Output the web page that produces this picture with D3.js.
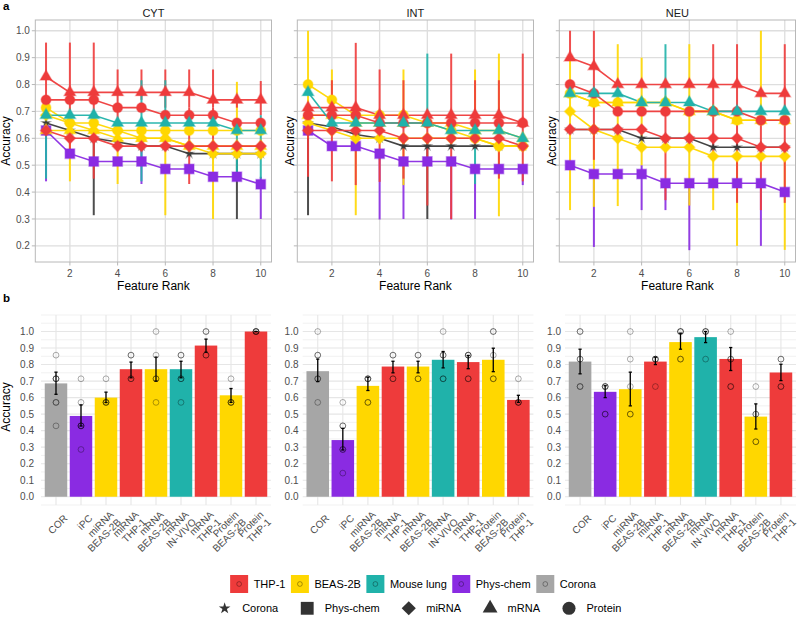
<!DOCTYPE html>
<html><head><meta charset="utf-8">
<script src="https://cdn.jsdelivr.net/npm/d3@7"></script>
<style>body{margin:0;background:#fff}</style>
</head><body>
<svg id="c" width="800" height="618"></svg>
<script>
// ---------------- DATA ----------------
const ranks = [1,2,3,4,5,6,7,8,9,10];
const topXTicks = [2,4,6,8,10];
const topYTicks = [0.2,0.3,0.4,0.5,0.6,0.7,0.8,0.9,1.0];
const botYTicks = [0,0.1,0.2,0.3,0.4,0.5,0.6,0.7,0.8,0.9,1.0];
const panelTitles = ["CYT","INT","NEU"];

// series of panel a (index order)
const seriesNames  = ["Corona","Phys-chem","miRNA BEAS-2B","mRNA BEAS-2B","Protein BEAS-2B","mRNA IN-VIVO","miRNA THP-1","mRNA THP-1","Protein THP-1"];
const seriesSource = ["Corona","Phys-chem","BEAS-2B","BEAS-2B","BEAS-2B","Mouse lung","THP-1","THP-1","THP-1"];
const seriesShape  = ["Corona","Phys-chem","miRNA","mRNA","Protein","mRNA","miRNA","mRNA","Protein"];

const cytMeans = [
 [.657,.629,.6,.586,.571,.571,.543,.543,.543,.543],
 [.629,.543,.514,.514,.514,.486,.486,.457,.457,.429],
 [.686,.657,.629,.629,.6,.6,.571,.543,.543,.543],
 [.629,.629,.629,.6,.6,.6,.571,.571,.571,.571],
 [.714,.657,.657,.629,.629,.629,.629,.629,.629,.629],
 [.686,.686,.686,.657,.657,.657,.657,.657,.629,.629],
 [.629,.6,.6,.571,.571,.571,.571,.571,.571,.571],
 [.829,.771,.771,.771,.771,.771,.771,.743,.743,.743],
 [.743,.743,.743,.714,.714,.686,.686,.686,.657,.657]];
const cytLo = [
 [.657,.629,.314,.586,.571,.571,.543,.543,.30,.543],
 [.44,.543,.514,.514,.43,.486,.486,.457,.457,.30],
 [.686,.657,.629,.629,.6,.6,.571,.30,.543,.543],
 [.629,.44,.629,.43,.6,.314,.571,.571,.571,.571],
 [.714,.657,.657,.629,.629,.629,.629,.629,.629,.629],
 [.45,.686,.686,.657,.44,.6,.657,.657,.45,.45],
 [.629,.6,.45,.557,.571,.557,.43,.543,.571,.571],
 [.70,.771,.771,.6,.743,.714,.714,.714,.714,.686],
 [.743,.53,.629,.714,.714,.686,.686,.686,.657,.657]];
const cytHi = [
 [.657,.629,.6,.586,.571,.571,.543,.543,.571,.543],
 [.629,.543,.514,.514,.56,.486,.486,.457,.457,.457],
 [.686,.657,.629,.629,.6,.6,.571,.571,.543,.543],
 [.629,.714,.629,.657,.6,.629,.571,.571,.571,.571],
 [.714,.657,.657,.629,.629,.629,.629,.629,.81,.629],
 [.70,.686,.686,.657,.816,.816,.657,.657,.629,.686],
 [.629,.6,.629,.6,.571,.6,.714,.714,.571,.571],
 [.956,.771,.771,.856,.856,.856,.856,.856,.743,.813],
 [.743,.956,.956,.714,.714,.686,.686,.686,.657,.657]];

const intMeans = [
 [.657,.643,.614,.6,.571,.571,.571,.571,.571,.571],
 [.629,.571,.571,.543,.514,.514,.514,.486,.486,.486],
 [.657,.629,.6,.6,.6,.6,.6,.6,.571,.571],
 [.686,.686,.657,.657,.657,.657,.657,.629,.629,.6],
 [.8,.743,.686,.686,.686,.657,.629,.6,.571,.571],
 [.771,.657,.657,.657,.657,.657,.629,.629,.629,.6],
 [.629,.629,.629,.629,.6,.6,.6,.6,.6,.571],
 [.714,.714,.714,.686,.686,.686,.686,.686,.686,.657],
 [.686,.686,.686,.657,.657,.657,.657,.657,.657,.657]];
const intLo = [
 [.314,.643,.614,.6,.571,.30,.571,.571,.571,.571],
 [.629,.571,.571,.298,.30,.514,.298,.30,.486,.426],
 [.657,.629,.6,.6,.426,.6,.6,.6,.31,.571],
 [.686,.686,.314,.657,.657,.657,.657,.629,.629,.6],
 [.6,.743,.686,.686,.686,.657,.629,.6,.571,.571],
 [.771,.657,.657,.657,.657,.657,.629,.43,.629,.6],
 [.629,.629,.426,.438,.6,.35,.6,.6,.6,.571],
 [.457,.714,.629,.6,.686,.686,.686,.6,.45,.44],
 [.686,.44,.686,.657,.45,.6,.30,.657,.657,.657]];
const intHi = [
 [.657,.643,.614,.6,.571,.571,.571,.571,.571,.571],
 [.629,.571,.571,.543,.514,.514,.514,.486,.486,.486],
 [.657,.629,.6,.6,.6,.6,.6,.6,.571,.571],
 [.686,.686,.657,.657,.657,.657,.657,.629,.629,.6],
 [1.0,.856,.686,.686,.856,.657,.629,.856,.915,.571],
 [.771,.657,.657,.657,.657,.915,.629,.629,.629,.6],
 [.629,.629,.629,.629,.6,.6,.6,.6,.6,.571],
 [.714,.714,.955,.856,.686,.686,.686,.816,.816,.915],
 [.686,.816,.686,.657,.816,.657,.915,.657,.657,.657]];

const neuMeans = [
 [.633,.633,.633,.6,.6,.6,.567,.567,.567,.567],
 [.5,.467,.467,.467,.433,.433,.433,.433,.433,.4],
 [.7,.633,.6,.567,.567,.567,.533,.533,.533,.533],
 [.767,.733,.733,.733,.733,.7,.7,.667,.667,.667],
 [.767,.733,.733,.733,.733,.7,.7,.667,.667,.667],
 [.767,.767,.767,.733,.733,.733,.7,.7,.7,.7],
 [.633,.633,.633,.633,.6,.6,.6,.6,.567,.567],
 [.9,.867,.8,.8,.8,.8,.8,.8,.767,.767],
 [.8,.767,.7,.7,.7,.7,.7,.7,.667,.667]];
const neuLo = [
 [.633,.633,.633,.6,.6,.6,.567,.567,.567,.567],
 [.5,.196,.467,.333,.333,.184,.433,.433,.2,.4],
 [.333,.345,.6,.567,.567,.567,.333,.2,.533,.185],
 [.767,.733,.348,.5,.733,.7,.7,.667,.667,.667],
 [.767,.733,.733,.733,.733,.35,.7,.667,.667,.667],
 [.767,.767,.767,.733,.733,.733,.7,.7,.7,.7],
 [.633,.633,.633,.633,.37,.6,.6,.6,.333,.567],
 [.9,.867,.8,.8,.8,.8,.533,.36,.767,.36],
 [.8,.52,.7,.7,.6,.7,.7,.7,.667,.667]];
const neuHi = [
 [.633,.633,.633,.6,.6,.6,.567,.567,.567,.567],
 [.5,.467,.467,.5,.433,.433,.433,.433,.433,.4],
 [.9,.633,.6,.567,.567,.567,.533,.533,.533,.533],
 [.767,.733,.95,.9,.733,.7,.7,.667,.667,.667],
 [.767,.733,.733,.733,.733,.95,.7,.667,1.0,.667],
 [.767,.767,.767,.733,.95,.733,.7,.7,.7,.7],
 [.633,.633,.633,.633,.6,.6,.6,.6,.667,.567],
 [1.0,.867,.8,.8,.8,.8,.95,.95,.767,.95],
 [.8,1.0,.7,.7,.733,.7,.7,.7,.667,.667]];

// panel b
const barCats   = ["COR","iPC","miRNA\nBEAS-2B","miRNA\nTHP-1","mRNA\nBEAS-2B","mRNA\nIN-VIVO","mRNA\nTHP-1","Protein\nBEAS-2B","Protein\nTHP-1"];
const barSource = ["Corona","Phys-chem","BEAS-2B","THP-1","BEAS-2B","Mouse lung","THP-1","BEAS-2B","THP-1"];

const cytBar   = [.686,.489,.600,.772,.772,.772,.915,.614,1.0];
const cytBarLo = [.620,.428,.570,.720,.700,.720,.875,.571,1.0];
const cytBarHi = [.754,.556,.633,.815,.845,.820,.954,.655,1.0];
const cytPts = [[.857,.714,.714,.714,.571,.571,.429],[.714,.571,.429,.429,.429,.286],[.714,.571,.571,.571],
 [.857,.857,.714,.714],[1.0,.857,.714,.714,.571],[.857,.857,.714,.714,.571],[1.0,1.0,.857,.857],[.714,.571,.571,.571],[1.0,1.0,1.0,1.0]];

const intBar   = [.760,.343,.671,.788,.788,.829,.815,.829,.586];
const intBarLo = [.697,.283,.643,.750,.750,.780,.775,.757,.571];
const intBarHi = [.833,.414,.723,.820,.820,.879,.855,.899,.614];
const intPts = [[1.0,.857,.857,.714,.714,.571],[.571,.429,.429,.286,.286,.143],[.714,.714,.714,.571,.571],
 [.857,.857,.714,.714],[.857,.857,.714,.714],[1.0,.857,.857,.714,.714],[.857,.857,.857,.714,.714],[1.0,1.0,.857,.714,.714],[.714,.571,.571,.571]];

const neuBar   = [.818,.635,.651,.818,.936,.966,.834,.485,.752];
const neuBarLo = [.744,.600,.550,.800,.893,.933,.764,.410,.703];
const neuBarHi = [.893,.672,.754,.845,.990,1.0,.903,.562,.802];
const neuPts = [[1.0,1.0,.833,.833,.667,.667],[.667,.667,.667,.5,.5],[1.0,.833,.667,.5,.5],
 [.833,.833,.833,.667],[1.0,1.0,1.0,.833,.833],[1.0,1.0,1.0,.833],[1.0,.833,.833,.667,.667],[.667,.5,.5,.333,.333],[.833,.833,.667,.667]];

const legendFill  = ["THP-1","BEAS-2B","Mouse lung","Phys-chem","Corona"];
const legendShape = ["Corona","Phys-chem","miRNA","mRNA","Protein"];

// ---------------- STYLE ----------------
const fillColors = {"THP-1":"#EE3B3B","BEAS-2B":"#FFD700","Mouse lung":"#20B2AA","Phys-chem":"#8A2BE2","Corona":"#A6A6A6"};
const coronaLine = "#3A3A3A";
const symType = {"Corona":d3.symbolStar,"Phys-chem":d3.symbolSquare,"miRNA":d3.symbolSquare,"mRNA":d3.symbolTriangle,"Protein":d3.symbolCircle};
const ptSize  = {"Corona":20,"Phys-chem":92,"miRNA":62,"mRNA":58,"Protein":76};
const legSize = {"Corona":42,"Phys-chem":165,"miRNA":100,"mRNA":95,"Protein":135};
const FONT = '"Liberation Sans", Arial, Helvetica, sans-serif';
const TXT = "#4D4D4D";

const svg = d3.select("#c").style("font-family", FONT);
function topColor(s){ return seriesSource[s]==="Corona" ? coronaLine : fillColors[seriesSource[s]]; }
function shapeTransform(shape,x,y){ return `translate(${x},${y})` + (shape==="miRNA" ? " rotate(45)" : ""); }

svg.append("text").attr("x",3).attr("y",10).attr("font-size",11.5).attr("font-weight","bold").attr("fill","#000").text("a");
svg.append("text").attr("x",3).attr("y",302).attr("font-size",11.5).attr("font-weight","bold").attr("fill","#000").text("b");

// ---------------- PANEL a ----------------
const yTop = d3.scaleLinear().domain([0.14,1.04]).range([262,20]);
const topPanels = [
 {x0:35.3, x1:271.5, means:cytMeans, lo:cytLo, hi:cytHi, yLab:true,  accX:10.3},
 {x0:297.3,x1:533.5, means:intMeans, lo:intLo, hi:intHi, yLab:false, accX:293.5},
 {x0:559.3,x1:795.5, means:neuMeans, lo:neuLo, hi:neuHi, yLab:false, accX:555.5}
];
const drawOrder = [0,1,2,3,4,6,7,8,5];

topPanels.forEach((p,pi)=>{
  const x = d3.scaleLinear().domain([0.55,10.45]).range([p.x0,p.x1]);
  const g = svg.append("g");
  const [yb, yt] = yTop.range();
  g.selectAll(".hg").data(topYTicks).join("line")
    .attr("x1",p.x0).attr("x2",p.x1).attr("y1",d=>yTop(d)).attr("y2",d=>yTop(d))
    .attr("stroke","#DEDEDE").attr("stroke-width",1.3);
  g.selectAll(".vg").data(topXTicks).join("line")
    .attr("x1",d=>x(d)).attr("x2",d=>x(d)).attr("y1",yt).attr("y2",yb)
    .attr("stroke","#DEDEDE").attr("stroke-width",1.3);
  g.append("rect").attr("x",p.x0).attr("y",yt).attr("width",p.x1-p.x0).attr("height",yb-yt)
    .attr("fill","none").attr("stroke","#B8B8B8").attr("stroke-width",1);
  g.selectAll(".yt").data(topYTicks).join("line")
    .attr("x1",p.x0-3.5).attr("x2",p.x0).attr("y1",d=>yTop(d)).attr("y2",d=>yTop(d))
    .attr("stroke","#B8B8B8").attr("stroke-width",1);
  g.selectAll(".xt").data(topXTicks).join("line")
    .attr("x1",d=>x(d)).attr("x2",d=>x(d)).attr("y1",yb).attr("y2",yb+3.5)
    .attr("stroke","#B8B8B8").attr("stroke-width",1);
  if(p.yLab){
    g.selectAll(".yl").data(topYTicks).join("text")
      .attr("x",p.x0-5.5).attr("y",d=>yTop(d)).attr("dy","0.36em").attr("text-anchor","end")
      .attr("font-size",10).attr("fill",TXT).text(d=>d3.format(".1f")(d));
  }
  g.selectAll(".xl").data(topXTicks).join("text")
    .attr("x",d=>x(d)).attr("y",277.3).attr("text-anchor","middle")
    .attr("font-size",10).attr("fill",TXT).text(d=>d);
  g.append("text").attr("x",(p.x0+p.x1)/2).attr("y",289.5).attr("text-anchor","middle")
    .attr("font-size",12).attr("fill","#000").text("Feature Rank");
  g.append("text").attr("transform",`translate(${p.accX},141) rotate(-90)`).attr("text-anchor","middle")
    .attr("font-size",12).attr("fill","#000").text("Accuracy");
  g.append("text").attr("x",(p.x0+p.x1)/2).attr("y",17.3).attr("text-anchor","middle")
    .attr("font-size",11).attr("fill","#1A1A1A").text(panelTitles[pi]);

  // error bars
  drawOrder.forEach(s=>{
    g.append("g").selectAll("line").data(ranks).join("line")
      .attr("x1",r=>x(r)).attr("x2",r=>x(r))
      .attr("y1",(r,i)=>yTop(p.lo[s][i])).attr("y2",(r,i)=>yTop(p.hi[s][i]))
      .attr("stroke",topColor(s)).attr("stroke-width",2).attr("stroke-opacity",0.9);
  });
  // lines
  const line = d3.line().x((d,i)=>x(ranks[i])).y(d=>yTop(d));
  drawOrder.forEach(s=>{
    g.append("path").attr("d",line(p.means[s])).attr("fill","none")
      .attr("stroke",topColor(s)).attr("stroke-width",1.6).attr("stroke-opacity",0.95);
  });
  // points
  drawOrder.forEach(s=>{
    const sh = seriesShape[s];
    g.append("g").selectAll("path").data(p.means[s]).join("path")
      .attr("d",d3.symbol(symType[sh], ptSize[sh])())
      .attr("transform",(d,i)=>shapeTransform(sh, x(ranks[i]), yTop(d)))
      .attr("fill",topColor(s)).attr("stroke",topColor(s)).attr("stroke-opacity",0.4).attr("stroke-width",1.4);
  });
});

// ---------------- PANEL b ----------------
const yBot = d3.scaleLinear().domain([-0.05,1.10]).range([505,315]);
const botPanels = [
 {x0:41,   x1:271,   means:cytBar, lo:cytBarLo, hi:cytBarHi, pts:cytPts, labX:34,    acc:true},
 {x0:302.7,x1:533.4, means:intBar, lo:intBarLo, hi:intBarHi, pts:intPts, labX:298.5, acc:false},
 {x0:565,  x1:796,   means:neuBar, lo:neuBarLo, hi:neuBarHi, pts:neuPts, labX:561,   acc:false}
];
const minorTicks = d3.range(-0.05, 1.101, 0.05).filter(v=>Math.abs(Math.round(v*10)-v*10)>0.2 || v>1.01 || v<-0.01);

botPanels.forEach(p=>{
  const x = d3.scaleBand().domain(barCats).range([p.x0,p.x1]).paddingInner(0.1).paddingOuter(0.15);
  const cx = c => x(c) + x.bandwidth()/2;
  const g = svg.append("g");
  const [yb, yt] = yBot.range();
  g.selectAll(".mg").data(minorTicks).join("line")
    .attr("x1",p.x0).attr("x2",p.x1).attr("y1",d=>yBot(d)).attr("y2",d=>yBot(d))
    .attr("stroke","#EFEFEF").attr("stroke-width",0.9);
  g.selectAll(".hg").data(botYTicks).join("line")
    .attr("x1",p.x0).attr("x2",p.x1).attr("y1",d=>yBot(d)).attr("y2",d=>yBot(d))
    .attr("stroke","#E6E6E6").attr("stroke-width",1.1);
  g.selectAll(".vg").data(barCats).join("line")
    .attr("x1",cx).attr("x2",cx).attr("y1",yt).attr("y2",yb)
    .attr("stroke","#E6E6E6").attr("stroke-width",1.1);
  g.selectAll(".yl").data(botYTicks).join("text")
    .attr("x",p.labX).attr("y",d=>yBot(d)).attr("dy","0.36em").attr("text-anchor","end")
    .attr("font-size",10).attr("fill",TXT).text(d=>d3.format(".1f")(d));
  if(p.acc){
    g.append("text").attr("transform",`translate(10.3,407) rotate(-90)`).attr("text-anchor","middle")
      .attr("font-size",12).attr("fill","#000").text("Accuracy");
  }
  g.selectAll(".bar").data(barCats).join("rect")
    .attr("x",c=>x(c)).attr("width",x.bandwidth())
    .attr("y",(c,i)=>yBot(p.means[i])).attr("height",(c,i)=>yBot(0)-yBot(p.means[i]))
    .attr("fill",(c,i)=>fillColors[barSource[i]]);
  barCats.forEach((c,i)=>{
    g.append("g").selectAll("circle").data(p.pts[i]).join("circle")
      .attr("cx",cx(c)).attr("cy",d=>yBot(d)).attr("r",2.9)
      .attr("fill","none").attr("stroke","#000").attr("stroke-opacity",0.32).attr("stroke-width",1);
  });
  barCats.forEach((c,i)=>{
    const xc = cx(c), y1 = yBot(p.lo[i]), y2 = yBot(p.hi[i]);
    const eg = g.append("g").attr("stroke","#000").attr("stroke-width",1.3);
    eg.append("line").attr("x1",xc).attr("x2",xc).attr("y1",y1).attr("y2",y2);
    eg.append("line").attr("x1",xc-1.6).attr("x2",xc+1.6).attr("y1",y1).attr("y2",y1);
    eg.append("line").attr("x1",xc-1.6).attr("x2",xc+1.6).attr("y1",y2).attr("y2",y2);
  });
  barCats.forEach(c=>{
    const lines = c.split("\n"), n = lines.length, lh = 10.5;
    lines.forEach((t,i)=>{
      const k = (i-(n-1)/2)*lh;
      const ex = cx(c) + 12 + k*0.7071, ey = 505 + 14 + k*0.7071;
      g.append("text").attr("transform",`translate(${ex},${ey}) rotate(-45)`)
        .attr("text-anchor","end").attr("font-size",10).attr("fill",TXT).text(t);
    });
  });
});

// ---------------- LEGENDS ----------------
function legendRow(items, keyW, gapText, gapItem, centerX, cy, drawKey){
  const g = svg.append("g");
  const widths = items.map(t=>{
    const tt = g.append("text").attr("font-size",11).text(t);
    const w = tt.node().getComputedTextLength(); tt.remove(); return w;
  });
  const total = d3.sum(widths) + items.length*(keyW+gapText) + (items.length-1)*gapItem;
  let xx = centerX - total/2;
  items.forEach((t,i)=>{
    drawKey(g, xx, keyW, cy, t);
    g.append("text").attr("x",xx+keyW+gapText).attr("y",cy).attr("dy","0.35em")
      .attr("font-size",11).attr("fill","#000").text(t);
    xx += keyW + gapText + widths[i] + gapItem;
  });
}
legendRow(legendFill, 18, 5.5, 5.5, 413, 584, (g,x0,w,cy,t)=>{
  g.append("rect").attr("x",x0).attr("y",cy-9).attr("width",18).attr("height",18).attr("fill",fillColors[t]);
  g.append("circle").attr("cx",x0+9).attr("cy",cy).attr("r",2.4).attr("fill","none")
    .attr("stroke","#000").attr("stroke-opacity",0.32).attr("stroke-width",1);
});
legendRow(legendShape, 24, 5.5, 17, 417, 608.3, (g,x0,w,cy,t)=>{
  g.append("path").attr("d",d3.symbol(symType[t], legSize[t])())
    .attr("transform",shapeTransform(t, x0+w/2, cy)).attr("fill","#333");
});
</script>
</body></html>
